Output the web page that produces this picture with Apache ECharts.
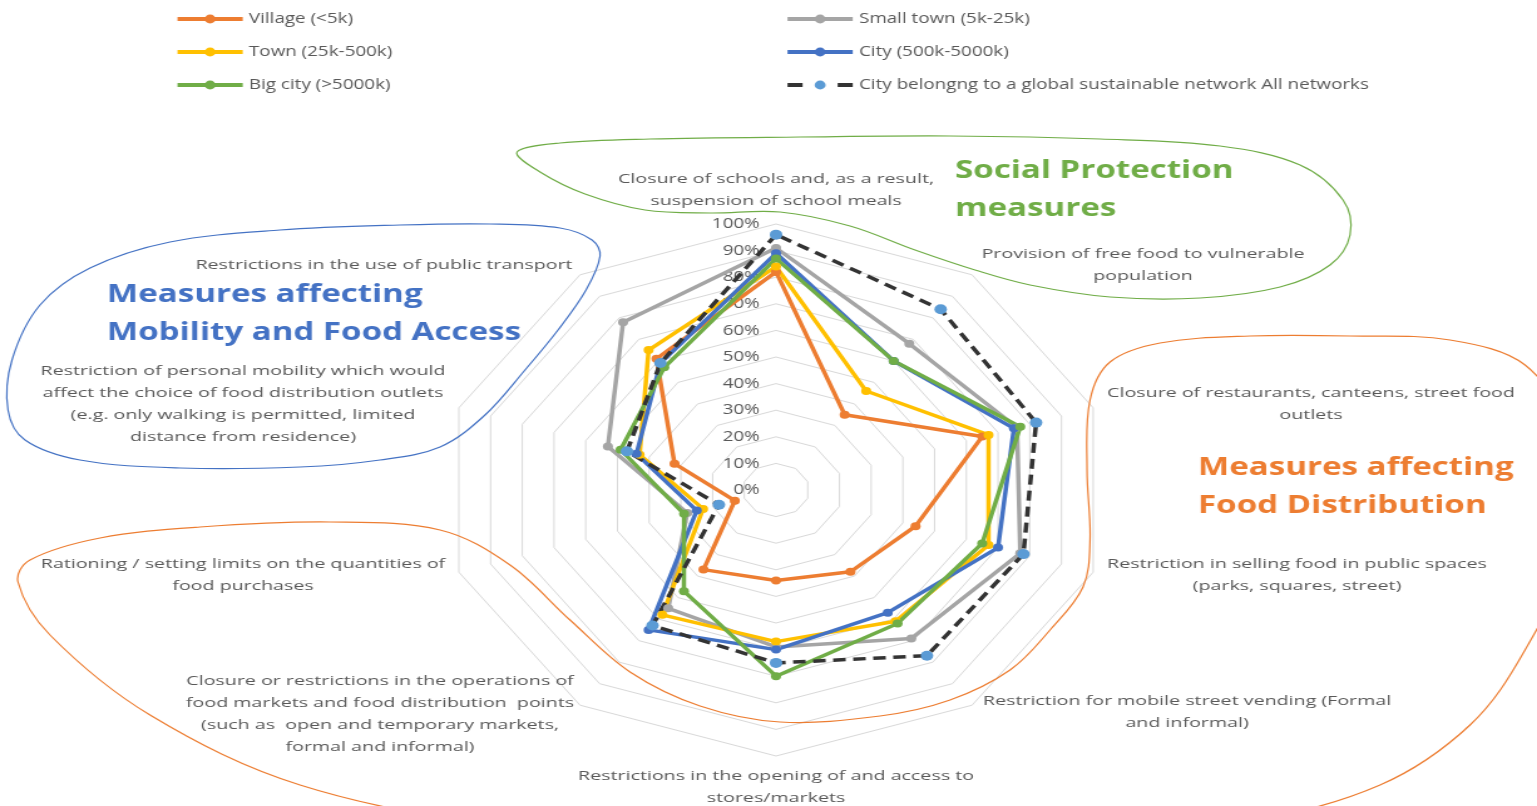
<!DOCTYPE html>
<html>
<head>
<meta charset="utf-8">
<script src="https://cdn.jsdelivr.net/npm/echarts@6/dist/echarts.min.js"></script>
<style>
  html, body { margin: 0; padding: 0; background: #fff; overflow: hidden; }
  /* the reference picture is stretched sideways, so the whole chart is drawn narrow and widened */
  #chart { width: 1226px; height: 806px; transform: scaleX(1.2537); transform-origin: 0 0; }
</style>
</head>
<body>
<div id="chart"></div>
<script>
const SX = 1537 / 1226;

// axes of the radar, clockwise from the top
const indicatorNames = [
  "Closure of schools and, as a result,\nsuspension of school meals",
  "Provision of free food to vulnerable\npopulation",
  "Closure of restaurants, canteens, street food\noutlets",
  "Restriction in selling food in public spaces\n(parks, squares, street)",
  "Restriction for mobile street vending (Formal\nand informal)",
  "Restrictions in the opening of and access to\nstores/markets",
  "Closure or restrictions in the operations of\nfood markets and food distribution  points\n(such as  open and temporary markets,\nformal and informal)",
  "Rationing / setting limits on the quantities of\nfood purchases",
  "Restriction of personal mobility which would\naffect the choice of food distribution outlets\n(e.g. only walking is permitted, limited\ndistance from residence)",
  "Restrictions in the use of public transport"
];

const seriesNames = [
  "Village (<5k)",
  "Small town (5k-25k)",
  "Town (25k-500k)",
  "City (500k-5000k)",
  "Big city (>5000k)",
  "City belongng to a global sustainable network All networks"
];

// share of cities (%), same axis order as indicatorNames
const village   = [82, 35, 65, 44, 38, 34, 37, 13, 32, 61];
const smallTown = [91, 68, 76, 77, 69, 59, 55, 28, 53, 78];
const town      = [84, 46, 67, 67, 61, 57, 58, 23, 43, 65];
const city      = [89, 60, 75, 70, 57, 60, 65, 25, 44, 59];
const bigCity   = [87, 60, 77, 65, 62, 70, 47, 29, 49, 57];
const network   = [96, 84, 82, 78, 77, 65, 63, 18, 47, 59];

const pctTicks = ["0%", "10%", "20%", "30%", "40%", "50%", "60%", "70%", "80%", "90%", "100%"];

const groupLabels = [
  { text: "Social Protection\nmeasures", color: "#70AD47" },
  { text: "Measures affecting\nMobility and Food Access", color: "#4472C4" },
  { text: "Measures affecting\nFood Distribution", color: "#ED7D31" }
];

// ---- layout (reference pixels, x is divided by SX) ----
const CX = 776 / SX, CY = 490, R = 266;
const TXT = "#595959";
const FONT = "'Open Sans', 'Noto Sans', sans-serif";

// centre x and top y of each axis caption
const namePos = [
  [776, 168], [1143, 243], [1311, 382], [1297, 553], [1187, 690],
  [776, 765], [380, 670], [243, 553], [243, 360], [384, 254]
];
const groupPos = [[955, 152], [107, 276], [1198, 449]];

const blobGreen = [[517,152],[560,143],[650,139],[800,137],[950,136],[1100,139],[1220,146],[1300,165],[1343,200],[1350,235],
  [1330,265],[1280,287],[1200,298],[1110,297],[1030,285],[975,270],[915,250],[850,226],[780,212],[710,213],[645,210],[585,194],[540,172]];
const blobBlue = [[8,410],[12,360],[40,305],[90,268],[170,242],[280,230],[400,225],[490,224],[560,228],[592,240],[600,256],
  [586,290],[558,330],[525,370],[485,415],[440,447],[380,460],[300,467],[180,468],[80,460],[25,440]];
const blobOrange = [[1090,540],[1087,470],[1090,400],[1110,362],[1160,343],[1250,336],[1350,336],[1450,340],[1525,365],
  [1565,430],[1565,560],[1525,650],[1470,725],[1380,785],[1250,820],[1000,835],[750,835],[500,825],[300,785],[150,715],
  [50,635],[18,582],[30,560],[100,538],[200,527],[330,522],[440,530],[510,565],[570,620],[630,672],[700,706],[780,722],
  [880,716],[950,700],[1010,670],[1050,630],[1083,587]];

const ccw = arr => [arr[0]].concat(arr.slice(1).reverse());
const px = pts => pts.map(p => [p[0] / SX, p[1]]);

const values = [village, smallTown, town, city, bigCity, network];
const lineColors = ["#ED7D31", "#A5A5A5", "#FFC000", "#4472C4", "#70AD47", "#333333"];
const dotColors  = ["#ED7D31", "#A5A5A5", "#FFC000", "#4472C4", "#70AD47", "#5B9BD5"];

const lineStyleOf = i => i === 5
  ? { color: lineColors[i], width: 3.5, type: [10, 6] }
  : { color: lineColors[i], width: 3.5 };

// empty line series only give the legend its line-and-dot icons
const legendSeries = seriesNames.map((n, i) => ({
  type: "line", name: n, data: [], symbol: "circle",
  lineStyle: lineStyleOf(i), itemStyle: { color: dotColors[i] }
}));

const radarSeries = seriesNames.map((n, i) => ({
  type: "radar", name: n, symbol: "circle", symbolSize: i === 5 ? 10 : 8,
  lineStyle: lineStyleOf(i), itemStyle: { color: dotColors[i] },
  data: [{ name: n, value: ccw(values[i]) }]
}));

const legendBase = {
  orient: "vertical", itemWidth: 52, itemHeight: 11, itemGap: 18, top: 11.5, padding: 0,
  lineStyle: { width: 4 },
  textStyle: { color: TXT, fontSize: 15, fontFamily: FONT }
};

const graphics = [];
graphics.push({ type: "polygon", shape: { points: px(blobGreen), smooth: 0.35 }, style: { fill: "none", stroke: "#70AD47", lineWidth: 1.2 }, z: 1 });
graphics.push({ type: "polygon", shape: { points: px(blobBlue), smooth: 0.35 }, style: { fill: "none", stroke: "#4472C4", lineWidth: 1.2 }, z: 1 });
graphics.push({ type: "polygon", shape: { points: px(blobOrange), smooth: 0.35 }, style: { fill: "none", stroke: "#ED7D31", lineWidth: 1.2 }, z: 1 });
indicatorNames.forEach((t, i) => {
  graphics.push({
    type: "text", x: namePos[i][0] / SX, y: namePos[i][1], scaleX: 1.16, z: 5,
    style: { text: t, fill: TXT, font: "13.5px " + FONT, lineHeight: 22,
      align: "center", textAlign: "center", verticalAlign: "top", textVerticalAlign: "top" }
  });
});
groupLabels.forEach((g, i) => {
  graphics.push({
    type: "text", x: groupPos[i][0] / SX, y: groupPos[i][1], scaleX: 1.035, z: 5,
    style: { text: g.text, fill: g.color, font: "bold 25.5px " + FONT, lineHeight: 38,
      align: "left", textAlign: "left", verticalAlign: "top", textVerticalAlign: "top" }
  });
});

const chart = echarts.init(document.getElementById("chart"));
chart.setOption({
  animation: false,
  backgroundColor: "#fff",
  legend: [
    Object.assign({ left: 175 / SX, data: [seriesNames[0], seriesNames[2], seriesNames[4]] }, legendBase),
    Object.assign({ left: 785 / SX, data: [seriesNames[1], seriesNames[3],
      { name: seriesNames[5], lineStyle: { type: [12, 28] } }] }, legendBase)
  ],
  grid: { left: CX, top: CY - R, height: R, width: 1 },
  xAxis: { type: "category", show: false, data: [] },
  yAxis: {
    type: "value", min: 0, max: 100, interval: 10, position: "left",
    axisLine: { show: false }, axisTick: { show: false }, splitLine: { show: false },
    axisLabel: { margin: 13, color: TXT, fontSize: 15, fontFamily: FONT,
      formatter: v => pctTicks[Math.round(v / 10)] }
  },
  radar: {
    center: [CX, CY], radius: R, startAngle: 90, splitNumber: 10, shape: "polygon",
    indicator: ccw(indicatorNames).map(n => ({ name: n, min: 0, max: 100 })),
    axisName: { show: false },
    axisLine: { show: false },
    axisTick: { show: false },
    axisLabel: { show: false },
    splitLine: { lineStyle: { color: "#d9d9d9", width: 1 } },
    splitArea: { show: false }
  },
  graphic: graphics,
  series: legendSeries.concat(radarSeries)
});
</script>
</body>
</html>
